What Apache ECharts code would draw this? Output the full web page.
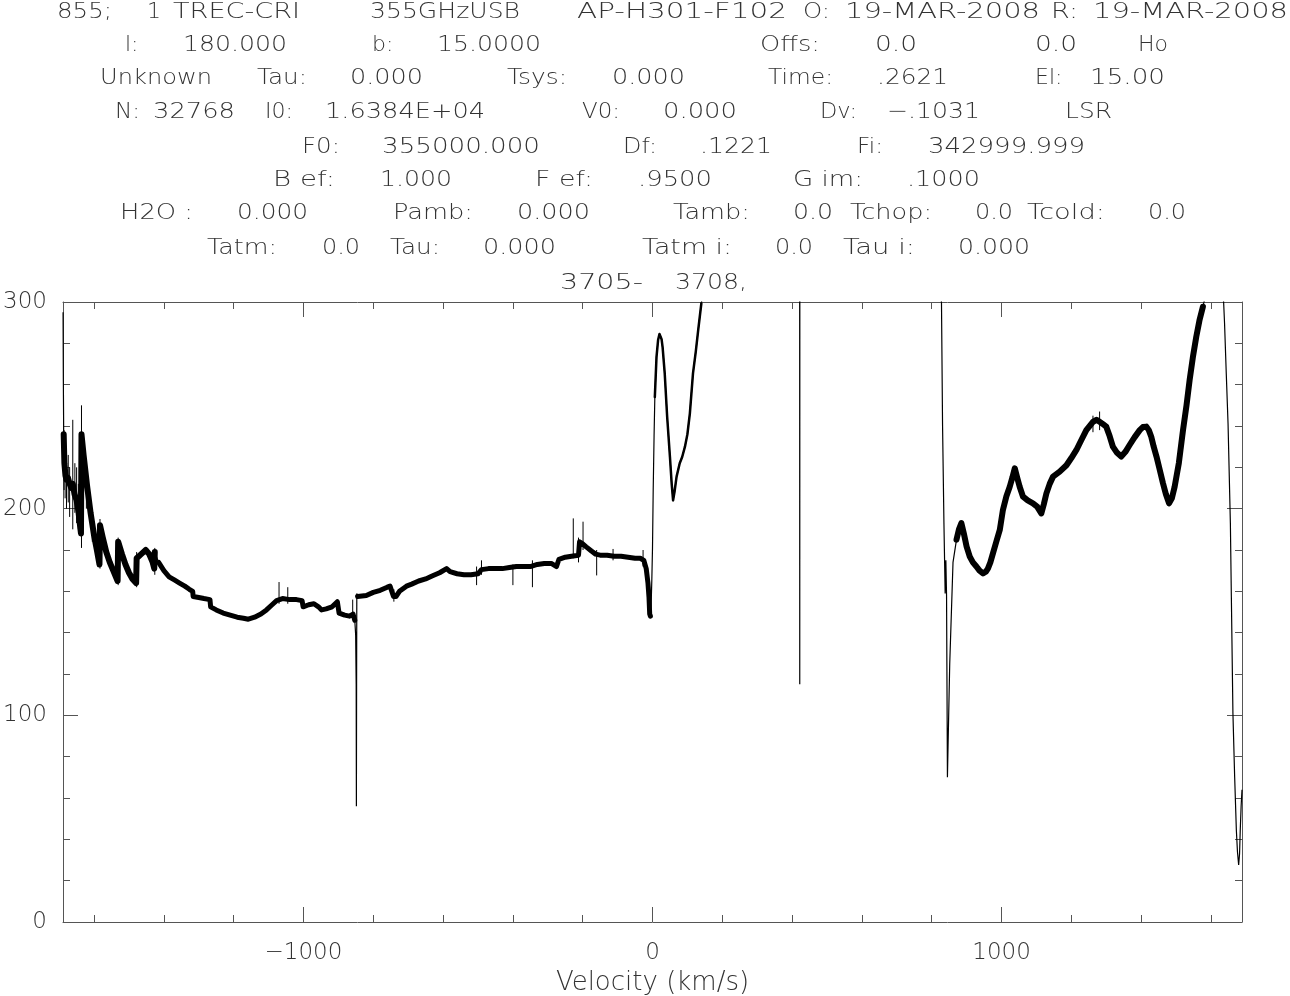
<!DOCTYPE html>
<html><head><meta charset="utf-8">
<script src="https://cdn.jsdelivr.net/npm/echarts@6/dist/echarts.min.js"></script>
<style>html,body{margin:0;padding:0;background:#fff}#c{width:1290px;height:996px}</style>
</head><body><div id="c"></div>
<script>
// ---- Spectrum (velocity km/s, temperature) ----
const spectrum = [
 [-1688.8,295],[-1688,262],[-1687,236],[-1685,222],[-1682,216],[-1679,214],[-1675,215],[-1670,212],[-1665,210],[-1661,212],[-1656,207],[-1650,204],[-1645,199],[-1641,193],[-1637.5,188],
 [-1636,236],[-1630,226],[-1620,211],[-1610,198],[-1600,187],[-1592,180],[-1584.5,173],
 [-1583,192],[-1575,186],[-1565,179],[-1555,174],[-1545,170],[-1532.5,165],
 [-1531,184],[-1520,178],[-1510,173],[-1500,169],[-1490,166],[-1479.5,164],
 [-1478,176],[-1465,178],[-1452,180],[-1442,178],[-1432,174],[-1427.5,171],
 [-1426,179],[-1415,174],[-1400,170],[-1385,167],[-1370,165.5],[-1355,164],[-1340,162.5],[-1327,161],[-1317.5,160],
 [-1316,157.5],[-1300,157],[-1285,156.5],[-1268,156],
 [-1266,152.5],[-1250,151],[-1230,149.5],[-1210,148.5],[-1190,147.5],[-1172,147],[-1158,146.5],[-1140,147.5],[-1122,149],[-1106,151],[-1090,153.5],[-1077,155.5],[-1060,156.5],[-1040,156],[-1020,156],[-1004,155.5],
 [-1001,152.5],[-985,153.5],[-970,154],[-957,152.5],[-948,151],[-935,151.5],[-918,152.5],[-903,155],
 [-898,149.5],[-882,148.5],[-868,148],[-858,149],[-853,146],[-850.5,139],[-849,115],[-848.4,56],[-847.8,115],[-847.2,159],[-845,157.5],
 [-820,158],[-800,159.5],[-780,160.5],[-760,162],[-752,162.5],[-742,157.5],[-735,157.5],[-725,160],[-705,162.5],[-690,163.5],[-670,165],[-650,166],[-630,167.5],[-610,169],[-590,171],
 [-580,169.5],[-560,168.5],[-540,168],[-520,168],[-500,168.5],[-490,170.5],[-470,171],[-450,171],[-430,171],[-410,171.5],[-390,172],[-370,172],[-350,172],[-330,173],[-310,173.5],[-290,173.5],[-275,172],
 [-268,175.5],[-250,176.5],[-232,177],[-212,177.5],[-209,184],[-200,183],[-190,181.5],[-175,179.5],[-163,178],[-150,177.5],[-130,177.5],[-110,177],[-90,177],[-70,176.5],[-50,176],[-35,176],[-25,175],[-18,171],[-13,164],[-10,157],[-8,149],[-6,148],
 [-4,153],[-2,165],[0,181],[2,209],[4.5,235],[6.7,254],[11.5,273.5],[16,281.6],[20,284.5],[23,285],[26,282],[29,278],[35,265.5],[42,244.5],[50,225],[55,212],[59,204],[63,208],[69,215.5],[78,222],[85,225],[93,230],[100,236],[107,246],[116,265.5],[124,276],[131,286.5],[140,299.4],
 [150,312],[200,345],[300,365],[400,365],[421.6,365],[421.9,115],[422.2,365],[500,365],[600,365],[700,355],[780,340],[815,320],[826,305],
 [828,299.4],[831,241],[835,193],[838.5,159],[840.5,175],[842.5,158],[845,70],[851.6,125],[861,174],[871,185],[878,190],[885,193],[892,188],[900,181.6],[909,176.8],[918,174],[928,172],[937,170],[947,168.7],[955,169.5],[961,171],[968,174],[975.6,178.5],[985,184],[995,189.7],
 [1004,199.4],[1014,206],[1023.5,210.6],[1031,215],[1038,219.5],[1045,215],[1052,210.6],[1061.6,205.8],[1075,204],[1090,202.6],[1102,201],[1114,197.7],[1121,202],[1128.6,207.4],[1138,212],[1147.6,215.5],[1166.7,217.9],[1186,221],[1200,224.5],[1214.6,228.4],[1228,233],[1243,238],[1262,242],[1272,243],[1281,242],[1290,241],[1300,239.7],
 [1310,235],[1319,230],[1331,227],[1343,225.2],[1355,227.5],[1367,230.8],[1381,234.5],[1396,238],[1405,239.5],[1415,239.7],[1422,238],[1429,234.8],[1436,230],[1444,225.2],[1453,219],[1462.6,212.3],[1471,207],[1480,202.6],[1488,205],[1496,210.6],[1508,222],[1520,238],[1530,250],[1539,262.3],[1548,273],[1558,283.2],[1567,291],[1577,297.7],
 [1587,305],[1600,320],[1620,325],[1632,310],[1636.5,299.4],[1639,289.7],[1644,265],[1649,241.3],[1655.7,193],[1658.5,157.4],[1663,101],[1668,70],[1672.8,44.5],[1676,34],[1679.4,27.6],[1682,33],[1684,44.5],[1686.5,56],[1689,64]
];
// single-channel spikes: [velocity, low, high]
const spikes = [
 [-1686,209,238],[-1683,205,230],[-1679,200,228],[-1674,203,226],[-1670,196,220],[-1661,190,243],[-1655,198,222],[-1650,193,220],[-1645,190,212],[-1636,181,250],[-1622,200,222],[-1605,184,200],[-1583,171,195],[-1531,163,186],[-1478,162,179],[-1426,168,181],
 [-1070,154,164.5],[-1045,154,162],[-859,147,156],[-741,155,161],[-504,163,172],[-490,168,175],[-400,163,173],[-344,162,175],[-227,176,195.3],[-212,174,186],[-199,180,193.7],[-160,167.7,180],[-113,175,180.5],[-27,172,180],[1262,237,245],[1281,238,247]
];
const xMajorTicks = [-1000, 0, 1000];
const xMinorTicks = [-1600,-1400,-1200,-1000,-800,-600,-400,-200,0,200,400,600,800,1000,1200,1400,1600];
const yTicks = [0, 100, 200, 300];

// header text rows: [text, left, right]  (right = null keeps natural width)
const headerRows = [
 [['855;',57,112],['1',147,null],['TREC-CRI',173,300],['355GHzUSB',370,520],['AP-H301-F102',577,787],['O:',803,830],['19-MAR-2008',845,1040],['R:',1051,1078],['19-MAR-2008',1093,1288]],
 [['l:',125,137],['180.000',183,287],['b:',372,392],['15.0000',437,541],['Offs:',760,820],['0.0',875,917],['0.0',1035,1077],['Ho',1138,1168]],
 [['Unknown',100,212],['Tau:',257,307],['0.000',350,423],['Tsys:',507,567],['0.000',612,685],['Time:',768,833],['.2621',877,948],['El:',1035,1062],['15.00',1090,1165]],
 [['N:',115,140],['32768',153,235],['I0:',265,293],['1.6384E+04',325,485],['V0:',582,620],['0.000',663,737],['Dv:',820,857],['\u2212.1031',887,980],['LSR',1065,1112]],
 [['F0:',302,340],['355000.000',382,540],['Df:',623,657],['.1221',700,772],['Fi:',857,883],['342999.999',928,1085]],
 [['B ef:',273,335],['1.000',380,452],['F ef:',535,593],['.9500',638,712],['G im:',793,863],['.1000',907,980]],
 [['H2O :',120,193],['0.000',237,308],['Pamb:',393,473],['0.000',517,590],['Tamb:',673,750],['0.0',793,833],['Tchop:',850,932],['0.0',975,1013],['Tcold:',1027,1105],['0.0',1148,1186]],
 [['Tatm:',207,277],['0.0',322,360],['Tau:',390,440],['0.000',483,556],['Tatm i:',642,732],['0.0',775,813],['Tau i:',843,915],['0.000',958,1030]],
 [['3705-',560,643],['3708,',675,747]]
];
const headerY = [12, 45, 78, 112, 147, 180, 213, 248, 283];

// ---- styles ----
const FONT = "'DejaVu Sans ExtraLight','DejaVu Sans',sans-serif";
const FS = 22;
const TXT = '#333';
const AX = '#555';
// [from, to, lineWidth] thick overlay for the noisy parts
const bandStyle = [[-1687, -1420, 6], [-1420, -851, 5], [-845, -6, 5], [5, 140, 2.5], [862, 1582, 6]];

const chart = echarts.init(document.getElementById('c'), null, {renderer: 'canvas'});

const mctx = document.createElement('canvas').getContext('2d');
const hFont = '200 ' + FS + 'px ' + FONT;
mctx.font = hFont;

const graphics = [];
headerRows.forEach((row, i) => {
  row.forEach(([t, x0, x1]) => {
    const w = mctx.measureText(t).width;
    const s = (x1 != null && w > 0) ? Math.max(1, (x1 - x0) / w) : 1;
    graphics.push({type: 'text', x: x0, y: headerY[i], scaleX: s, silent: true,
      style: {text: t, fill: TXT, font: hFont, align: 'left', verticalAlign: 'middle'}});
  });
});

const spikeData = [];
spikes.forEach(([v, lo, hi]) => { spikeData.push([v, lo], [v, hi], [v, '-']); });

const series = [
  {type: 'line', data: spectrum, showSymbol: false, symbol: 'none', clip: true, xAxisIndex: 0, yAxisIndex: 0,
   lineStyle: {color: '#000', width: 1.2}, z: 3},
  {type: 'line', data: spikeData, showSymbol: false, symbol: 'none', clip: true, connectNulls: false, xAxisIndex: 0, yAxisIndex: 0,
   lineStyle: {color: '#000', width: 1}, z: 3}
];
bandStyle.forEach(([a, b, w]) => {
  series.push({type: 'line', data: spectrum.filter(p => p[0] >= a && p[0] <= b), showSymbol: false, symbol: 'none', clip: true,
    xAxisIndex: 0, yAxisIndex: 0, lineStyle: {color: '#000', width: w, join: 'round', cap: 'round'}, z: 4});
});

const xBase = {type: 'value', min: -1689, max: 1689, splitLine: {show: false}, gridIndex: 0};
const fmt = v => (v < 0 ? '\u2212' + Math.abs(v) : String(v));
const lbl = {color: TXT, fontFamily: FONT, fontWeight: 200, fontSize: 23};

chart.setOption({
  animation: false,
  backgroundColor: '#fff',
  grid: {left: 63, right: 48, top: 302, bottom: 74, containLabel: false, outerBoundsMode: 'none'},
  graphic: graphics,
  xAxis: [
    Object.assign({}, xBase, {position: 'bottom',
      axisLine: {show: true, onZero: false, lineStyle: {color: AX, width: 1}},
      axisTick: {show: true, inside: true, length: 15, customValues: xMajorTicks, lineStyle: {color: AX}},
      axisLabel: Object.assign({show: true, customValues: xMajorTicks, formatter: fmt, margin: 20}, lbl),
      name: 'Velocity (km/s)', nameLocation: 'middle', nameGap: 44,
      nameTextStyle: {color: TXT, fontFamily: FONT, fontWeight: 200, fontSize: 26}}),
    Object.assign({}, xBase, {position: 'bottom',
      axisLine: {show: false, onZero: false}, axisLabel: {show: false},
      axisTick: {show: true, inside: true, length: 7, customValues: xMinorTicks, lineStyle: {color: AX}}}),
    Object.assign({}, xBase, {position: 'top',
      axisLine: {show: true, onZero: false, lineStyle: {color: AX, width: 1}}, axisLabel: {show: false},
      axisTick: {show: true, inside: true, length: 15, customValues: xMajorTicks, lineStyle: {color: AX}}}),
    Object.assign({}, xBase, {position: 'top',
      axisLine: {show: false, onZero: false}, axisLabel: {show: false},
      axisTick: {show: true, inside: true, length: 7, customValues: xMinorTicks, lineStyle: {color: AX}}})
  ],
  yAxis: [
    {type: 'value', min: 0, max: 300, interval: 100, position: 'left', splitLine: {show: false},
     axisLine: {show: true, onZero: false, lineStyle: {color: AX, width: 1}},
     axisTick: {show: true, inside: true, length: 15, lineStyle: {color: AX}},
     minorTick: {show: true, splitNumber: 5, length: 7, lineStyle: {color: AX}},
     axisLabel: Object.assign({show: true, customValues: yTicks, margin: 16}, lbl)},
    {type: 'value', min: 0, max: 300, interval: 100, position: 'right', splitLine: {show: false},
     axisLine: {show: true, onZero: false, lineStyle: {color: AX, width: 1}},
     axisTick: {show: true, inside: true, length: 15, lineStyle: {color: AX}},
     minorTick: {show: true, splitNumber: 5, length: 7, lineStyle: {color: AX}},
     axisLabel: {show: false}}
  ],
  series: series
});
</script></body></html>
